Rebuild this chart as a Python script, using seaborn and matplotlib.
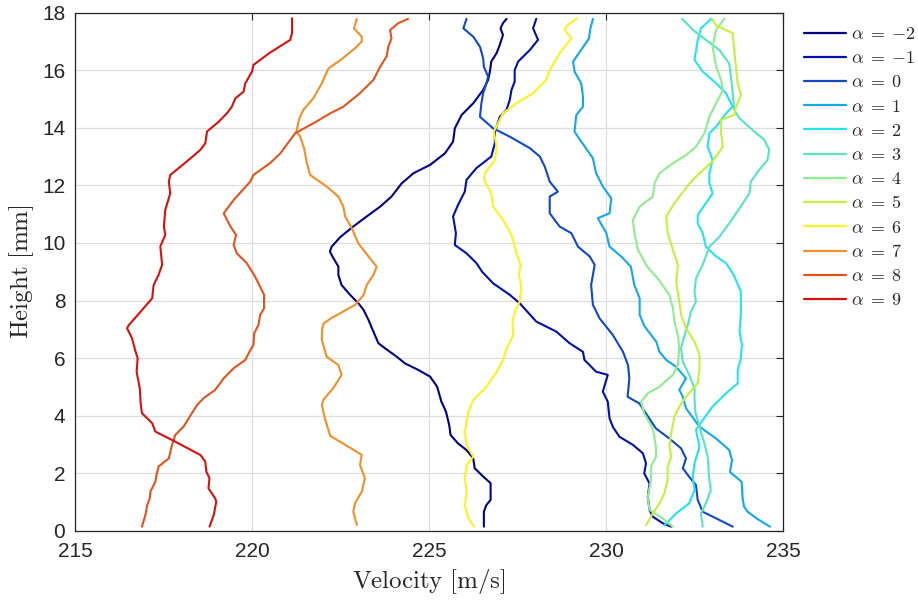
import numpy as np
import pandas as pd
import matplotlib
matplotlib.use("Agg")
import matplotlib.pyplot as plt
import seaborn as sns

# ---------------- data (height [mm], velocity [m/s]) ----------------
alphas = [-2, -1, 0, 1, 2, 3, 4, 5, 6, 7, 8, 9]

h_m2 = [0.15, 0.67, 0.9, 1.08, 1.66, 1.89, 2.18, 2.52, 2.81, 3.04, 3.33, 3.68, 4.14, 4.49, 5.01, 5.36, 5.59, 5.82,
        6.05, 6.34, 6.52, 6.92, 7.33, 7.68, 7.91, 8.2, 8.54, 8.89, 9.18, 9.47, 9.7, 9.87, 10.2, 10.57, 10.92, 11.26,
        11.61, 12.07, 12.42, 12.71, 13.11, 13.52, 13.98, 14.44, 14.85, 15.31, 15.66, 15.95, 16.3, 16.59, 16.88,
        17.22, 17.45, 17.63, 17.78]
v_m2 = [226.55, 226.55, 226.62, 226.74, 226.74, 226.53, 226.29, 226.25, 226.06, 225.82, 225.61, 225.57, 225.48,
        225.35, 225.23, 225.03, 224.70, 224.32, 224.09, 223.76, 223.57, 223.43, 223.29, 223.15, 223.00, 222.77,
        222.53, 222.44, 222.44, 222.30, 222.20, 222.25, 222.49, 222.86, 223.24, 223.62, 223.94, 224.23, 224.56,
        225.03, 225.45, 225.68, 225.73, 225.92, 226.25, 226.53, 226.67, 226.72, 226.76, 226.91, 227.00, 227.09,
        227.02, 227.09, 227.19]

h_m1 = [0.15, 0.27, 0.5, 0.73, 1.19, 1.65, 2.0, 2.35, 2.7, 2.99, 3.27, 3.6, 3.91, 4.49, 4.84, 5.42, 5.53, 5.94,
        6.22, 6.52, 6.92, 7.27, 7.91, 8.2, 8.6, 9.0, 9.3, 9.64, 9.93, 10.34, 10.92, 11.32, 11.78, 12.19, 12.6,
        13.0, 13.46, 13.86, 14.38, 14.62, 14.96, 15.31, 15.6, 16.0, 16.3, 16.7, 17.05, 17.45, 17.78]
v_m1 = [231.84, 231.60, 231.32, 231.23, 231.18, 231.23, 231.08, 231.13, 231.04, 230.76, 230.38, 230.20, 230.10,
        230.05, 229.91, 230.05, 229.72, 229.39, 229.35, 228.97, 228.60, 228.03, 227.56, 227.28, 226.81, 226.50,
        226.34, 226.06, 225.73, 225.76, 225.68, 225.82, 226.01, 226.06, 226.34, 226.76, 226.86, 226.86, 227.00,
        227.19, 227.28, 227.33, 227.42, 227.42, 227.52, 227.85, 228.08, 227.94, 228.03]

h_0 = [0.15, 0.44, 0.67, 1.08, 1.6, 1.88, 2.18, 2.52, 2.87, 3.21, 3.56, 4.08, 4.43, 4.66, 5.3, 5.76, 6.22, 6.81,
       7.38, 7.85, 8.54, 9.24, 9.53, 9.87, 10.34, 10.57, 11.03, 11.61, 11.78, 12.13, 12.65, 13.0, 13.29, 13.69,
       13.98, 14.38, 14.85, 15.2, 15.54, 15.77, 16.12, 16.41, 16.81, 17.16, 17.45, 17.78]
v_0 = [233.58, 233.11, 232.73, 232.59, 232.54, 232.35, 232.17, 232.26, 232.12, 231.79, 231.41, 231.13, 230.94,
       230.61, 230.66, 230.62, 230.48, 230.19, 229.82, 229.63, 229.58, 229.68, 229.54, 229.21, 229.02, 228.69,
       228.41, 228.41, 228.64, 228.41, 228.27, 228.13, 227.85, 227.28, 226.81, 226.44, 226.48, 226.53, 226.62,
       226.67, 226.55, 226.53, 226.44, 226.25, 225.97, 226.06]

h_1 = [0.15, 0.44, 0.67, 0.84, 1.13, 1.71, 2.05, 2.24, 2.46, 2.81, 3.21, 3.62, 4.26, 4.66, 4.9, 5.3, 5.7, 5.94,
       6.22, 6.57, 7.1, 7.5, 8.08, 8.54, 9.18, 9.53, 9.87, 10.34, 10.86, 11.03, 11.55, 11.96, 12.42, 12.94,
       13.52, 13.86, 14.44, 14.73, 15.08, 15.54, 15.95, 16.3, 17.1, 17.4, 17.78]
v_1 = [234.63, 234.25, 234.00, 233.90, 233.86, 233.83, 233.50, 233.53, 233.56, 233.48, 233.11, 232.64, 232.26,
       232.17, 232.07, 232.26, 231.98, 231.70, 231.51, 231.42, 231.09, 230.95, 230.95, 230.80, 230.70, 230.43,
       230.10, 230.01, 229.77, 230.10, 230.15, 229.91, 229.72, 229.63, 229.30, 229.11, 229.16, 229.35, 229.35,
       229.30, 229.11, 229.07, 229.52, 229.55, 229.63]

h_2 = [0.2, 0.61, 0.96, 1.42, 1.88, 2.35, 2.93, 3.51, 3.85, 4.32, 4.78, 5.13, 5.59, 6.0, 6.46, 6.92, 7.5, 8.31,
       8.9, 9.3, 9.53, 9.87, 10.34, 10.68, 10.97, 11.38, 11.72, 12.07, 12.42, 12.88, 13.34, 13.81, 14.04, 14.27,
       14.5, 14.73, 14.96, 15.2, 15.54, 15.95, 16.35, 17.05, 17.45, 17.78]
v_2 = [231.65, 231.98, 232.35, 232.50, 232.45, 232.50, 232.64, 232.54, 232.73, 233.01, 233.39, 233.72, 233.72,
       233.81, 233.84, 233.77, 233.81, 233.81, 233.60, 233.39, 233.11, 232.82, 232.73, 232.59, 232.59, 232.82,
       233.01, 232.92, 232.92, 233.01, 232.87, 232.92, 233.11, 233.25, 233.39, 233.58, 233.48, 233.39, 233.11,
       232.73, 232.50, 232.59, 232.68, 232.97]

h_3 = [0.15, 0.61, 0.96, 1.42, 1.77, 2.58, 3.04, 3.62, 4.14, 4.6, 4.95, 5.42, 5.88, 6.34, 6.75, 7.15, 7.62, 7.96,
       8.31, 8.77, 9.24, 9.87, 10.21, 10.68, 11.2, 11.72, 12.13, 12.54, 12.88, 13.23, 13.58, 13.92, 14.33, 14.62,
       15.2, 15.77, 16.23, 16.7, 17.05, 17.4, 17.78]
v_3 = [232.73, 232.68, 232.82, 232.96, 232.92, 232.87, 232.78, 232.64, 232.52, 232.50, 232.50, 232.35, 232.17,
       232.12, 232.21, 232.31, 232.40, 232.54, 232.50, 232.54, 232.73, 232.92, 233.20, 233.48, 233.77, 234.05,
       234.09, 234.33, 234.56, 234.61, 234.47, 234.14, 233.77, 233.62, 233.58, 233.53, 233.48, 233.20, 232.82,
       232.45, 232.15]

h_4 = [0.15, 0.44, 0.73, 1.19, 1.77, 2.24, 2.58, 2.93, 3.56, 4.08, 4.26, 4.49, 4.78, 5.01, 5.42, 5.76, 6.34,
       6.8, 7.27, 7.73, 8.19, 8.77, 9.18, 9.76, 10.34, 10.8, 11.26, 11.61, 12.07, 12.42, 12.77, 13.05, 13.34,
       13.81, 14.38, 14.85, 15.31, 15.66, 16.12, 16.81, 17.4, 17.78]
v_4 = [231.88, 231.60, 231.23, 231.18, 231.27, 231.27, 231.41, 231.41, 231.32, 231.08, 231.04, 230.99, 231.18,
       231.51, 231.89, 232.03, 232.07, 232.03, 231.93, 231.89, 231.79, 231.46, 231.16, 230.90, 230.80, 230.76,
       230.95, 231.32, 231.37, 231.51, 231.89, 232.26, 232.54, 232.78, 232.92, 233.11, 233.30, 233.25, 233.11,
       233.01, 233.11, 233.34]

h_5 = [0.2, 0.61, 0.96, 1.31, 1.77, 2.24, 2.58, 2.93, 3.39, 3.97, 4.32, 4.66, 5.13, 5.59, 6.11, 6.57, 7.04, 7.5,
       7.96, 8.66, 9.24, 9.76, 10.34, 10.92, 11.38, 12.07, 12.42, 12.83, 13.34, 13.81, 14.27, 14.44, 14.73,
       15.14, 15.54, 16.12, 16.7, 17.28, 17.55, 17.78]
v_5 = [231.13, 231.32, 231.51, 231.65, 231.74, 231.74, 231.84, 231.79, 231.84, 231.93, 232.07, 232.26, 232.59,
       232.64, 232.64, 232.50, 232.26, 232.12, 232.07, 231.98, 232.03, 231.89, 231.74, 231.70, 231.93, 232.36,
       232.64, 233.01, 233.30, 233.25, 233.25, 233.62, 233.67, 233.81, 233.72, 233.67, 233.62, 233.58, 233.11,
       232.99]

h_6 = [0.15, 0.44, 0.9, 1.37, 1.83, 2.29, 2.58, 2.99, 3.45, 4.14, 4.55, 5.01, 5.53, 5.94, 6.34, 6.8, 7.27, 7.62,
       7.96, 8.43, 8.89, 9.24, 9.64, 10.28, 10.8, 11.26, 11.72, 12.19, 12.42, 12.88, 13.34, 13.86, 14.5, 14.85,
       15.2, 15.66, 16.0, 16.59, 17.1, 17.4, 17.57, 17.78]
v_6 = [226.27, 226.11, 226.01, 226.06, 226.01, 226.06, 226.25, 226.06, 226.01, 226.11, 226.25, 226.62, 226.91,
       227.09, 227.19, 227.38, 227.36, 227.42, 227.56, 227.61, 227.54, 227.58, 227.47, 227.33, 227.09, 226.81,
       226.76, 226.55, 226.58, 226.86, 226.91, 226.83, 227.09, 227.47, 227.94, 228.31, 228.41, 228.69, 229.02,
       228.83, 228.92, 229.16]

h_7 = [0.21, 0.67, 0.96, 1.37, 1.83, 2.29, 2.64, 2.89, 3.3, 3.9, 4.38, 4.56, 4.97, 5.42, 5.76, 6.05, 6.64, 7.0,
       7.2, 7.4, 7.56, 7.85, 8.19, 8.54, 8.89, 9.18, 9.53, 9.99, 10.51, 10.92, 11.26, 11.61, 11.96, 12.36, 12.77,
       13.29, 13.7, 13.87, 14.33, 14.62, 15.02, 15.54, 16.06, 16.35, 16.76, 16.99, 17.16, 17.45, 17.78]
v_7 = [222.96, 222.86, 222.91, 223.10, 223.19, 223.05, 223.10, 222.77, 222.21, 222.06, 221.97, 222.02, 222.30,
       222.53, 222.44, 222.11, 221.97, 221.98, 222.02, 222.25, 222.49, 222.91, 223.15, 223.24, 223.43, 223.52,
       223.29, 223.00, 222.82, 222.63, 222.58, 222.44, 222.11, 221.64, 221.55, 221.47, 221.36, 221.25, 221.34,
       221.45, 221.73, 221.97, 222.16, 222.50, 222.91, 223.10, 223.10, 222.88, 222.96]

h_8 = [0.15, 0.56, 0.9, 1.13, 1.37, 1.71, 1.94, 2.24, 2.52, 2.99, 3.33, 3.63, 3.91, 4.38, 4.61, 4.9, 5.3, 5.65,
       5.94, 6.23, 6.46, 6.86, 7.15, 7.5, 7.73, 8.2, 8.48, 8.89, 9.3, 9.64, 9.93, 10.28, 10.57, 11.03, 11.49,
       12.13, 12.36, 12.77, 13.11, 13.81, 14.2, 14.5, 14.73, 15.2, 15.66, 16.12, 16.47, 16.81, 17.1, 17.39,
       17.63, 17.78]
v_8 = [216.89, 216.99, 217.04, 217.11, 217.13, 217.27, 217.30, 217.36, 217.65, 217.74, 217.83, 218.07, 218.21,
       218.45, 218.63, 218.96, 219.20, 219.48, 219.81, 219.93, 220.04, 220.06, 220.18, 220.23, 220.34, 220.34,
       220.23, 220.06, 219.85, 219.57, 219.48, 219.55, 219.39, 219.20, 219.48, 219.95, 220.04, 220.51, 220.80,
       221.22, 221.80, 222.21, 222.58, 223.05, 223.43, 223.62, 223.80, 223.85, 223.94, 223.90, 224.13, 224.41]

h_9 = [0.15, 0.56, 1.02, 1.13, 1.48, 1.83, 2.06, 2.41, 2.64, 3.16, 3.45, 3.74, 4.09, 4.49, 4.95, 5.53, 6.0, 6.23,
       6.69, 7.04, 7.15, 7.61, 8.08, 8.54, 8.89, 9.24, 9.88, 10.28, 10.57, 11.15, 11.72, 12.13, 12.36, 12.83,
       13.23, 13.46, 13.87, 14.21, 14.5, 14.73, 15.02, 15.25, 15.54, 15.95, 16.18, 16.6, 17.05, 17.28, 17.8]
v_9 = [218.80, 218.92, 218.99, 218.96, 218.77, 218.80, 218.71, 218.68, 218.54, 217.74, 217.27, 217.18, 216.89,
       216.85, 216.83, 216.74, 216.77, 216.71, 216.61, 216.47, 216.52, 216.85, 217.18, 217.22, 217.36, 217.46,
       217.41, 217.55, 217.51, 217.55, 217.69, 217.65, 217.69, 218.16, 218.54, 218.68, 218.73, 219.06, 219.29,
       219.43, 219.53, 219.76, 219.81, 220.00, 220.04, 220.50, 221.08, 221.13, 221.13]

heights = [h_m2, h_m1, h_0, h_1, h_2, h_3, h_4, h_5, h_6, h_7, h_8, h_9]
velocities = [v_m2, v_m1, v_0, v_1, v_2, v_3, v_4, v_5, v_6, v_7, v_8, v_9]

colors = ['#000085', '#0010AA', '#1048C8', '#12A8EC', '#22E4F0', '#58E4C4',
          '#90EC90', '#C4F040', '#FFF21E', '#F29028', '#E4531C', '#D81010']

x_ticks = [215, 220, 225, 230, 235]
y_ticks = [0, 2, 4, 6, 8, 10, 12, 14, 16, 18]

# ---------------- build long table ----------------
labels = [r'$\alpha\;=\;{%d}$' % a for a in alphas]
rows = []
for lab, hs, vs in zip(labels, heights, velocities):
    for i, (hh, vv) in enumerate(zip(hs, vs)):
        rows.append((lab, i, vv, hh))
df = pd.DataFrame(rows, columns=['label', 'order', 'Velocity', 'Height'])

# ---------------- plot ----------------
sns.set_style("white")
plt.rcParams['font.family'] = ['Liberation Sans', 'DejaVu Sans']
plt.rcParams['mathtext.fontset'] = 'cm'

fig = plt.figure(figsize=(9.18, 6.01), dpi=100)
ax = fig.add_axes([75 / 918, 1 - 531 / 601, (783 - 75) / 918, (531 - 12.5) / 601])

sns.lineplot(data=df, x='Velocity', y='Height', hue='label', hue_order=labels,
             palette=colors, sort=False, estimator=None, linewidth=1.5, ax=ax)

ax.set_xlim(215, 235)
ax.set_ylim(0, 18)
ax.set_xticks(x_ticks)
ax.set_yticks(y_ticks)
ax.grid(True, color='#dedede', linewidth=0.9)
ax.set_axisbelow(True)
for s in ax.spines.values():
    s.set_color('#262626')
    s.set_linewidth(0.9)
ax.tick_params(direction='in', length=5, width=0.8, top=True, right=True,
               labelsize=15, colors='#262626')
ax.tick_params(axis='x', pad=8)
ax.tick_params(axis='y', pad=7)

ax.set_xlabel(r'$\mathrm{Velocity\ [m/s]}$', fontsize=18, color='#262626', labelpad=4)
ax.set_ylabel(r'$\mathrm{Height\ [mm]}$', fontsize=18, color='#262626', labelpad=4)

handles, labs = ax.get_legend_handles_labels()
for h in handles:
    h.set_linewidth(1.6)
ax.legend(handles, labs, loc='upper left', bbox_to_anchor=(804 / 918, 0.957),
          bbox_transform=fig.transFigure, frameon=False, fontsize=13,
          handlelength=2.3, handletextpad=0.3, labelspacing=0.4, borderpad=0,
          borderaxespad=0)

fig.savefig('out.png', dpi=100)
